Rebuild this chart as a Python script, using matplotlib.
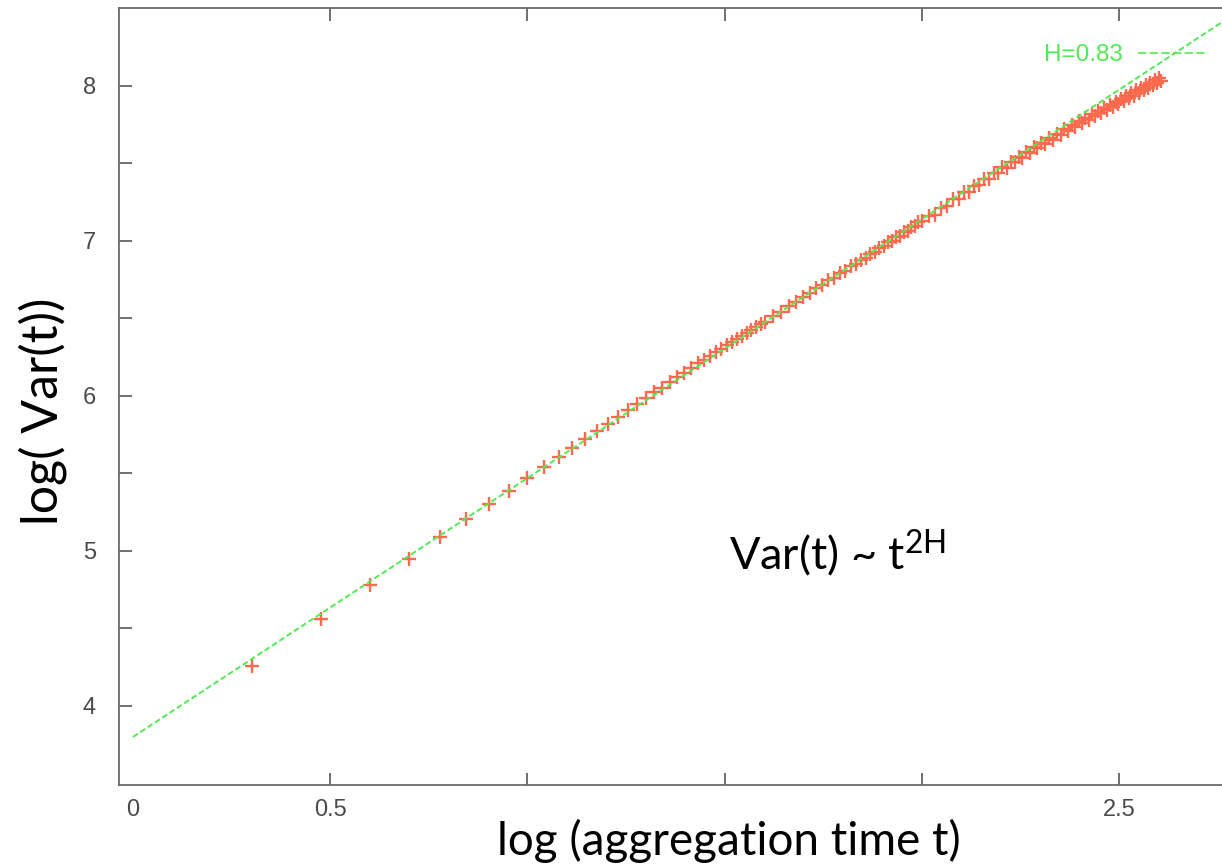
#!/usr/bin/env python3
"""Variance-time plot: log Var(t) against log aggregation time, with H fit line."""

import numpy as np
import matplotlib.pyplot as plt
from matplotlib.lines import Line2D

# colours
redcol = '#ff6a4f'
greencol = '#52ea52'
axiscol = '#6a6a6a'
tickcol = '#4a4a4a'

# aggregation times t and measured log10 Var(t)
t_fine = [2, 3, 4, 5, 6, 7, 8, 9, 10, 11, 12, 13, 14, 15, 16, 17, 18, 19, 20,
          21, 22, 23, 24, 25, 26, 27, 28, 29, 30, 31, 32, 33, 34, 35, 36, 37,
          38, 39, 40]
var_fine = [4.26, 4.56, 4.78, 4.945, 5.09, 5.205, 5.30, 5.39, 5.47, 5.54,
            5.605, 5.665, 5.72, 5.772, 5.82, 5.864, 5.911, 5.951, 5.988,
            6.023, 6.054, 6.089, 6.12, 6.15, 6.18, 6.21, 6.235, 6.258, 6.282,
            6.306, 6.328, 6.345, 6.37, 6.389, 6.409, 6.427, 6.445, 6.462, 6.48]

t_mid = [42, 44, 46, 48, 50, 52, 54, 56, 58, 60, 62, 64, 66, 68, 70, 72, 74,
         76, 78, 80, 82, 84, 86, 88, 90, 92, 94, 96, 98, 100]
var_mid = [6.514, 6.543, 6.581, 6.604, 6.640, 6.662, 6.696, 6.715, 6.747,
           6.764, 6.795, 6.808, 6.838, 6.851, 6.878, 6.893, 6.919, 6.930,
           6.957, 6.966, 6.992, 7.000, 7.027, 7.034, 7.058, 7.066, 7.089,
           7.096, 7.120, 7.127]

t_high = [104, 108, 112, 116, 120, 124, 128, 132, 136, 140, 144, 148, 152,
          156, 160, 164, 168, 172, 176, 180, 184, 188, 192, 196, 200]
var_high = [7.163, 7.170, 7.215, 7.223, 7.268, 7.271, 7.313, 7.313, 7.356,
            7.358, 7.399, 7.399, 7.438, 7.436, 7.474, 7.473, 7.511, 7.507,
            7.542, 7.537, 7.572, 7.568, 7.603, 7.598, 7.631]

t_top = [205, 210, 215, 220, 225, 230, 235, 240, 245, 250, 255, 260, 265,
         270, 275, 280, 285, 290, 295, 300, 305, 310, 315, 320, 325, 330,
         335, 340, 345, 350, 355, 360, 365, 370, 375, 380, 385, 390, 395,
         400, 405]
var_top = [7.625, 7.664, 7.654, 7.693, 7.682, 7.720, 7.710, 7.746, 7.735,
           7.772, 7.759, 7.795, 7.782, 7.817, 7.804, 7.838, 7.824, 7.858,
           7.844, 7.877, 7.863, 7.897, 7.882, 7.916, 7.901, 7.934, 7.920,
           7.953, 7.938, 7.971, 7.955, 7.988, 7.972, 8.005, 7.989, 8.020,
           8.005, 8.036, 8.020, 8.051, 8.035]

# fitted line end points (slope 2H)
fit_x = [0.0, 2.85]
fit_y = [3.80, 8.56]
fit_label = 'H=0.83'

t_all = np.array(t_fine + t_mid + t_high + t_top)
var_all = np.array(var_fine + var_mid + var_high + var_top)
logt = np.log10(t_all)

W, H = 1222, 866
fig = plt.figure(figsize=(W / 100, H / 100), dpi=100)
fig.patch.set_facecolor('white')

# axes box: left 119px, bottom 785px, top 8px; right side runs off the image
x0, x1 = -0.0355, 2.8
ax = fig.add_axes([119 / W, (H - 785) / H, (x1 - x0) * 394.4 / W, 777 / H])
ax.set_xlim(x0, x1)
ax.set_ylim(3.49, 8.503)

ax.plot(logt, var_all, linestyle='none', marker='+', markersize=10.5,
        markeredgewidth=1.7, color=redcol, zorder=2)
fitline, = ax.plot(fit_x, fit_y, color=greencol, linewidth=1.4,
                   linestyle=(0, (3, 1.5)), zorder=3)

xt = [0, 0.5, 1.0, 1.5, 2.0, 2.5]
ax.set_xticks(xt)
ax.set_xticklabels(['0', '0.5', '', '', '', '2.5'])
yt = [4, 4.5, 5, 5.5, 6, 6.5, 7, 7.5, 8]
ax.set_yticks(yt)
ax.set_yticklabels(['4', '', '5', '', '6', '', '7', '', '8'])

ax.tick_params(axis='both', direction='in', length=9, width=1.1,
               color=tickcol, labelcolor=tickcol, labelsize=17,
               top=True, right=True)
ax.tick_params(axis='x', pad=10)
ax.tick_params(axis='y', pad=16.5)
for lab in ax.get_xticklabels() + ax.get_yticklabels():
    lab.set_family('Liberation Sans')
# no tick mark at x = 0
ax.xaxis.get_major_ticks()[0].tick1line.set_visible(False)
ax.xaxis.get_major_ticks()[0].tick2line.set_visible(False)

for s in ax.spines.values():
    s.set_color(axiscol)
    s.set_linewidth(1.3)

# legend entry top right, text before sample
leg = ax.legend([Line2D([], [], color=greencol, linewidth=1.2,
                        linestyle=(0, (5, 2)))], [fit_label],
                loc='center right', bbox_to_anchor=(1208 / W, 1 - 55 / H),
                bbox_transform=fig.transFigure, frameon=False,
                markerfirst=False, handlelength=2.9, handletextpad=0.6,
                borderpad=0, borderaxespad=0,
                prop={'family': 'Liberation Sans', 'size': 17.5})
for txt in leg.get_texts():
    txt.set_color(greencol)

# big slide-style labels
lab_font = 'Lato'
fig.text(729 / W, 1 - 855 / H, 'log (aggregation time t)', ha='center',
         va='baseline', fontsize=33, family=lab_font, color='black')
fig.text(43 / W, 1 - 411 / H, 'log( Var(t))', ha='center', va='center',
         rotation=90, fontsize=36, family=lab_font, color='black')
fig.text(729 / W, 1 - 570 / H, r'Var(t) ~ t$^{\mathregular{2H}}$',
         ha='left', va='baseline', fontsize=32.5, family=lab_font,
         color='black')

plt.savefig('out.png', dpi=100, facecolor='white')
plt.close()
